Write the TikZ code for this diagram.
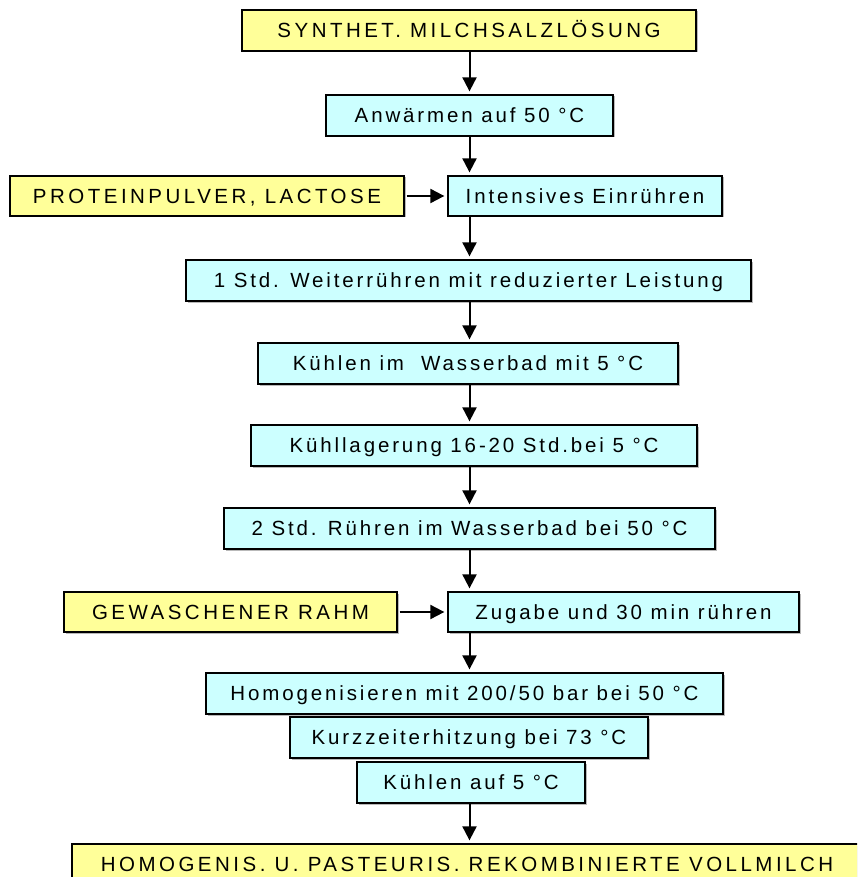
\documentclass[tikz,border=0pt]{standalone}
\usepackage{fontspec}
\newfontfamily\stepfont{Liberation Sans}[LetterSpace=14]
\newfontfamily\inputfont{Liberation Sans}[LetterSpace=17]
\usetikzlibrary{arrows.meta,shadows}
\definecolor{inputyellow}{HTML}{FFFF99}
\definecolor{stepcyan}{HTML}{CCFFFF}

% box given by its left, top, right and bottom edges
\newcommand\flowbox[7]{%
  \node[#1, minimum width={(#5-#3)*1pt}, minimum height={(#6-#4)*1pt}]
    (#2) at ({(#3+#5)/2},{(#4+#6)/2}) {#7};}

\begin{document}
\begin{tikzpicture}[x=1pt,y=-1pt,
  basebox/.style={draw=black, line width=1.3pt, inner sep=0pt,
    text height=14.7pt, text depth=0pt,
    drop shadow={shadow xshift=1.5pt, shadow yshift=-1.5pt, fill=gray!55, opacity=1}},
  inbox/.style={basebox, fill=inputyellow, font=\inputfont\fontsize{20.5}{24}\selectfont},
  stepbox/.style={basebox, fill=stepcyan, font=\stepfont\fontsize{20.5}{24}\selectfont},
  arr/.style={line width=2pt, -{Triangle[length=14pt,width=14pt]}, shorten >=3pt}]
\useasboundingbox (0,0) rectangle (857,877);
\clip (0,0) rectangle (857,877);
\coordinate (col) at (469.5,0);

\flowbox{inbox}{top}{242}{10}{696}{51}{SYNTHET. MILCHSALZLÖSUNG}
\flowbox{stepbox}{anw}{326}{95}{613}{136}{Anwärmen auf 50 °C}
\flowbox{inbox}{prot}{10}{176}{404}{216}{PROTEINPULVER, LACTOSE}
\flowbox{stepbox}{intens}{448}{176}{722}{216}{Intensives Einrühren}
\flowbox{stepbox}{weiter}{186}{260}{751}{301}{1 Std. Weiterrühren mit reduzierter Leistung}
\flowbox{stepbox}{kuehlen}{258}{343}{678}{384}{Kühlen im~ Wasserbad mit 5 °C}
\flowbox{stepbox}{lager}{251}{425}{697}{466}{Kühllagerung 16-20 Std.bei 5 °C}
\flowbox{stepbox}{ruehren}{224}{508}{715}{549}{2 Std. Rühren im Wasserbad bei 50 °C}
\flowbox{inbox}{rahm}{64}{592}{397}{632}{GEWASCHENER RAHM}
\flowbox{stepbox}{zugabe}{448}{592}{799}{632}{Zugabe und 30 min rühren}
\flowbox{stepbox}{homog}{206}{673}{723}{714}{Homogenisieren mit 200/50 bar bei 50 °C}
\flowbox{stepbox}{kurz}{290}{717}{648}{758}{Kurzzeiterhitzung bei 73 °C}
\flowbox{stepbox}{kuehl5}{357}{762}{585}{803}{Kühlen auf 5 °C}
\flowbox{inbox}{final}{72}{844}{862}{885}{HOMOGENIS. U. PASTEURIS. REKOMBINIERTE VOLLMILCH}

\draw[arr] (top.south -| col) -- (anw.north -| col);
\draw[arr] (anw.south -| col) -- (intens.north -| col);
\draw[arr] (intens.south -| col) -- (weiter.north -| col);
\draw[arr] (weiter.south -| col) -- (kuehlen.north -| col);
\draw[arr] (kuehlen.south -| col) -- (lager.north -| col);
\draw[arr] (lager.south -| col) -- (ruehren.north -| col);
\draw[arr] (ruehren.south -| col) -- (zugabe.north -| col);
\draw[arr] (zugabe.south -| col) -- (homog.north -| col);
\draw[arr] (kuehl5.south -| col) -- (final.north -| col);
\draw[arr] ([xshift=2pt]prot.east) -- (intens.west);
\draw[arr] ([xshift=2pt]rahm.east) -- (zugabe.west);
\end{tikzpicture}
\end{document}
